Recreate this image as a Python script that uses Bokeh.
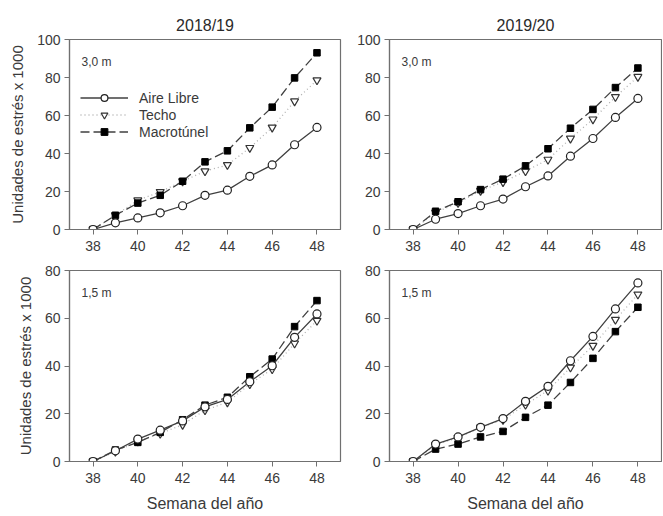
from bokeh.plotting import figure
from bokeh.layouts import gridplot
from bokeh.models import FixedTicker, Range1d, Label, Legend, LegendItem
from bokeh.embed import file_html
from bokeh.resources import INLINE

weeks = [38, 39, 40, 41, 42, 43, 44, 45, 46, 47, 48]
x_ticks = [38, 40, 42, 44, 46, 48]

# 2018/19, 3,0 m
a1_aire = [0, 3.5, 6.1, 8.8, 12.5, 18.0, 20.7, 28.0, 34.0, 44.6, 53.7]
a1_techo = [0, 7.5, 15.4, 19.8, 25.4, 30.7, 34.0, 43.0, 53.7, 67.5, 78.6]
a1_macro = [0, 7.5, 13.9, 18.0, 25.4, 35.6, 41.4, 53.5, 64.4, 79.8, 93.0]
# 2019/20, 3,0 m
a2_aire = [0, 5.4, 8.4, 12.5, 16.0, 22.5, 28.2, 38.6, 47.9, 59.0, 69.0]
a2_techo = [0, 9.0, 14.0, 20.4, 25.0, 30.7, 36.8, 47.9, 58.0, 69.8, 80.4]
a2_macro = [0, 9.6, 14.6, 21.0, 26.5, 33.5, 42.5, 53.3, 63.2, 74.7, 85.0]
# 2018/19, 1,5 m
b1_aire = [0, 4.5, 9.4, 13.1, 17.0, 22.9, 26.0, 33.4, 40.1, 52.0, 61.8]
b1_techo = [0, 4.2, 8.4, 11.7, 15.4, 21.5, 24.8, 32.4, 38.7, 49.5, 59.0]
b1_macro = [0, 4.8, 8.0, 12.2, 17.5, 23.6, 26.9, 35.5, 42.9, 56.5, 67.4]
# 2019/20, 1,5 m
b2_aire = [0, 7.3, 10.3, 14.3, 18.0, 25.2, 31.5, 42.2, 52.4, 63.9, 74.8]
b2_techo = [0, 6.9, 10.0, 14.3, 17.5, 23.8, 29.7, 39.4, 48.5, 59.4, 70.0]
b2_macro = [0, 5.2, 7.3, 10.3, 12.6, 18.5, 23.6, 33.1, 43.2, 54.4, 64.6]

series_names = ["Aire Libre", "Techo", "Macrotúnel"]
titles = ["2018/19", "2019/20"]
height_labels = ["3,0 m", "1,5 m"]
y_ticks_top = [0, 20, 40, 60, 80, 100]
y_ticks_bottom = [0, 20, 40, 60, 80]
x_axis_label = "Semana del año"
y_axis_label = "Unidades de estrés x 1000"

FONT = "Liberation Sans"
AX = "#707070"
TXT = "#3a3a3a"


def make_panel(aire, techo, macro, ymax, yticks, title, hlabel, left, top, legend=False):
    if left:
        w, bl, br = 350, 69, 10
    else:
        w, bl, br = 312, 39, 1
    if top:
        h, bt, bb = 258, 39, 29
    else:
        h, bt, bb = 258, 12, 55
    frame_h = h - bt - bb
    p = figure(width=w, height=h, output_backend="svg", toolbar_location=None,
               x_range=Range1d(36.95, 49.05), y_range=Range1d(0, ymax),
               min_border_left=bl, min_border_right=br,
               min_border_top=bt, min_border_bottom=bb)
    p.grid.visible = False
    p.background_fill_color = "white"
    p.border_fill_color = "white"
    p.outline_line_color = AX
    p.outline_line_width = 1.2
    for ax in (p.xaxis[0], p.yaxis[0]):
        ax.axis_line_color = AX
        ax.axis_line_width = 1.2
        ax.major_tick_line_color = AX
        ax.major_tick_out = 5
        ax.major_tick_in = 0
        ax.minor_tick_line_color = None
        ax.major_label_text_font = FONT
        ax.major_label_text_font_size = "14px"
        ax.major_label_text_color = TXT
        ax.axis_label_text_font = FONT
        ax.axis_label_text_font_style = "normal"
        ax.axis_label_text_color = TXT
    p.xaxis.ticker = FixedTicker(ticks=x_ticks)
    p.yaxis.ticker = FixedTicker(ticks=yticks)
    p.xaxis.major_label_standoff = 6
    p.yaxis.major_label_standoff = 4
    if left:
        p.yaxis.axis_label = y_axis_label
        p.yaxis.axis_label_text_font_size = "15px"
        p.yaxis.axis_label_standoff = 8
    if not top:
        p.xaxis.axis_label = x_axis_label
        p.xaxis.axis_label_text_font_size = "16px"
        p.xaxis.axis_label_standoff = 9
    if title:
        p.title.text = title
        p.title.align = "center"
        p.title.text_font = FONT
        p.title.text_font_size = "16px"
        p.title.text_font_style = "normal"
        p.title.text_color = "#2a2a2a"
        p.title.standoff = 12

    l_t = p.line(weeks, techo, line_color="#b0b0b0", line_width=1.3, line_dash="1 3")
    s_t = p.scatter(weeks, techo, marker="inverted_triangle", size=8,
                    fill_color="white", line_color="#333333", line_width=1.2)
    l_m = p.line(weeks, macro, line_color="#404040", line_width=1.3, line_dash="9 4")
    s_m = p.scatter(weeks, macro, marker="square", size=6.5,
                    fill_color="black", line_color="black")
    l_a = p.line(weeks, aire, line_color="#404040", line_width=1.3)
    s_a = p.scatter(weeks, aire, marker="circle", size=8,
                    fill_color="white", line_color="#222222", line_width=1.2)

    p.add_layout(Label(x=12, y=frame_h - 22, x_units="screen", y_units="screen",
                       text=hlabel, text_font=FONT, text_font_size="12px",
                       text_color=TXT, text_baseline="middle"))

    if legend:
        lg = Legend(items=[
            LegendItem(label=series_names[0], renderers=[l_a, s_a]),
            LegendItem(label=series_names[1], renderers=[l_t, s_t]),
            LegendItem(label=series_names[2], renderers=[l_m, s_m]),
        ], location=(11, 89))
        lg.glyph_width = 48
        lg.glyph_height = 17
        lg.label_height = 17
        lg.label_standoff = 11
        lg.padding = 0
        lg.margin = 0
        lg.spacing = 0
        lg.border_line_color = None
        lg.background_fill_alpha = 0
        lg.label_text_font = FONT
        lg.label_text_font_size = "14px"
        lg.label_text_color = TXT
        p.add_layout(lg)
    return p


p1 = make_panel(a1_aire, a1_techo, a1_macro, 100, y_ticks_top, titles[0], height_labels[0], True, True, legend=True)
p2 = make_panel(a2_aire, a2_techo, a2_macro, 100, y_ticks_top, titles[1], height_labels[0], False, True)
p3 = make_panel(b1_aire, b1_techo, b1_macro, 80, y_ticks_bottom, None, height_labels[1], True, False)
p4 = make_panel(b2_aire, b2_techo, b2_macro, 80, y_ticks_bottom, None, height_labels[1], False, False)

grid = gridplot([[p1, p2], [p3, p4]], toolbar_location=None)

open("out.html", "w").write(file_html(grid, INLINE))
